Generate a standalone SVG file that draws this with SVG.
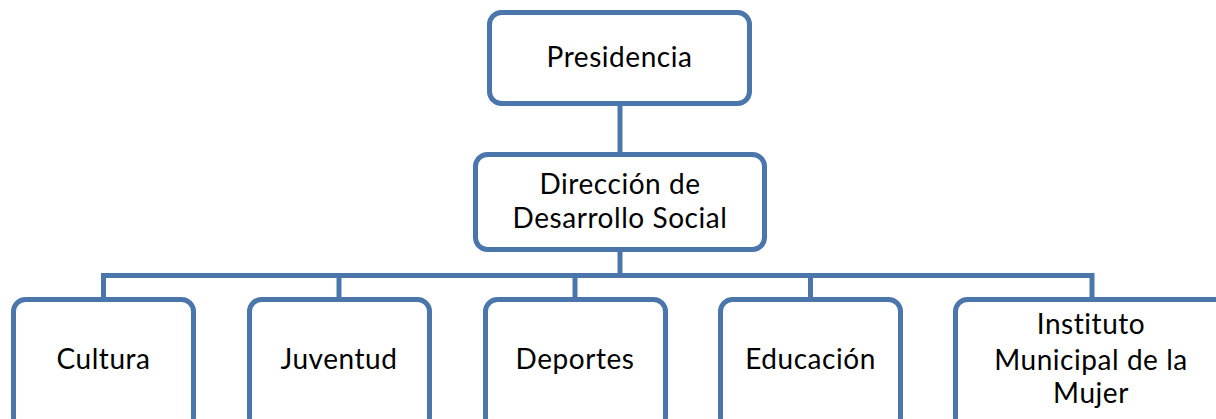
<svg xmlns="http://www.w3.org/2000/svg" width="1216" height="419" viewBox="0 0 1216 419">
<style>
.box{fill:#ffffff;stroke:#4A76AC;stroke-width:5}
.ln{fill:none;stroke:#4A76AC;stroke-width:5}
text{font-family:Lato,"Open Sans","Liberation Sans",sans-serif;font-size:28px;letter-spacing:0.55px;fill:#000;text-anchor:middle}
</style>
<rect width="1216" height="419" fill="#ffffff"/>
<g id="connectors">
<path class="ln" d="M620 105 V154"/>
<path class="ln" d="M620 251 V275.5"/>
<path class="ln" d="M103.5 299 V275.5 H1092 V299"/>
<path class="ln" d="M339 275.5 V299"/>
<path class="ln" d="M575 275.5 V299"/>
<path class="ln" d="M810.5 275.5 V299"/>
</g>
<g id="presidencia">
<rect class="box" x="489.5" y="12.5" width="260" height="91" rx="12"/>
<text x="619.5" y="67">Presidencia</text>
</g>
<g id="direccion">
<rect class="box" x="475.5" y="154.5" width="289" height="95" rx="12"/>
<text x="620" y="194">Dirección de</text>
<text x="620" y="228">Desarrollo Social</text>
</g>
<g id="cultura">
<rect class="box" x="13.5" y="299.5" width="180" height="130" rx="12"/>
<text x="103.5" y="369">Cultura</text>
</g>
<g id="juventud">
<rect class="box" x="249.5" y="299.5" width="180" height="130" rx="12"/>
<text x="339" y="369">Juventud</text>
</g>
<g id="deportes">
<rect class="box" x="485.5" y="299.5" width="180" height="130" rx="12"/>
<text x="575" y="369">Deportes</text>
</g>
<g id="educacion">
<rect class="box" x="720.5" y="299.5" width="180" height="130" rx="12"/>
<text x="810.5" y="369">Educación</text>
</g>
<g id="instituto">
<rect class="box" x="955.5" y="299.5" width="280" height="130" rx="12"/>
<text x="1091" y="334">Instituto</text>
<text x="1091" y="370">Municipal de la</text>
<text x="1091" y="403">Mujer</text>
</g>
</svg>
